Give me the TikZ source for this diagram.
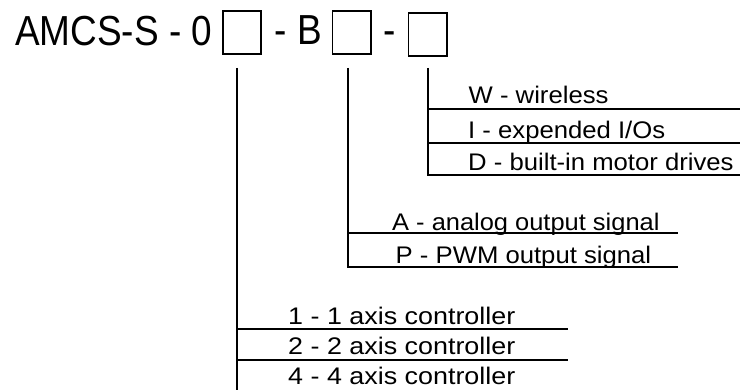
\documentclass[tikz,border=0pt]{standalone}
\usepackage{fontspec}
\setmainfont{Liberation Sans}
\usepackage{graphicx}
\begin{document}
\begin{tikzpicture}[x=1pt,y=-1pt,
  ln/.style={line width=1.9pt},
  box/.style={draw,line width=1.9pt,minimum width=38.1pt,minimum height=43.1pt,inner sep=0pt},
  ttl/.style={anchor=base west,inner sep=0pt,font=\fontsize{42}{42}\selectfont},
  lbl/.style={anchor=base west,inner sep=0pt,font=\fontsize{24}{24}\selectfont}]
\useasboundingbox (0,0) rectangle (740,390);
% title
\node[ttl] (t1) at (15,46) {\scalebox{0.88}[1]{AMCS-S - 0}};
\node[box] (b1) at (242,32.5) {};
\node[ttl] (t2) at (274.5,45) {\scalebox{0.88}[1]{- B}};
\node[box] (b2) at (351.5,32.5) {};
\node[ttl] (t3) at (383.5,45) {\scalebox{0.88}[1]{-}};
\node[box] (b3) at (427.5,34.5) {};
% coordinates
\coordinate (v1t) at (237,68);
\coordinate (v1b) at (237,390);
\coordinate (v2t) at (348,68);
\coordinate (v2e) at (678,267);
\coordinate (v3t) at (428,68);
\coordinate (v3e) at (740,175);
\coordinate (h1as) at (237,329); \coordinate (h1ae) at (568,329);
\coordinate (h1bs) at (237,360); \coordinate (h1be) at (568,360);
\coordinate (h2as) at (348,233); \coordinate (h2ae) at (678,233);
\coordinate (h3as) at (428,109); \coordinate (h3ae) at (740,109);
\coordinate (h3bs) at (428,143); \coordinate (h3be) at (740,143);
% lines
\draw[ln] (v1t) -- (v1b);
\draw[ln] (h1as) -- (h1ae);
\draw[ln] (h1bs) -- (h1be);
\draw[ln] (v2t) |- (v2e);
\draw[ln] (h2as) -- (h2ae);
\draw[ln] (v3t) |- (v3e);
\draw[ln] (h3as) -- (h3ae);
\draw[ln] (h3bs) -- (h3be);
% labels
\node[lbl] (lw) at (468.5,104) {\scalebox{1.07}[1]{W - wireless}};
\node[lbl] (li) at (468,139) {\scalebox{1.07}[1]{I - expended I/Os}};
\node[lbl] (ld) at (468,171) {\scalebox{1.07}[1]{D - built-in motor drives}};
\node[lbl] (la) at (392,231) {\scalebox{1.06}[1]{A - analog output signal}};
\node[lbl] (lp) at (395.5,264) {\scalebox{1.07}[1]{P - PWM output signal}};
\node[lbl] (l1) at (288,325) {\scalebox{1.12}[1]{1 - 1 axis controller}};
\node[lbl] (l2) at (288,355) {\scalebox{1.12}[1]{2 - 2 axis controller}};
\node[lbl] (l4) at (288,385) {\scalebox{1.12}[1]{4 - 4 axis controller}};
\end{tikzpicture}
\end{document}
